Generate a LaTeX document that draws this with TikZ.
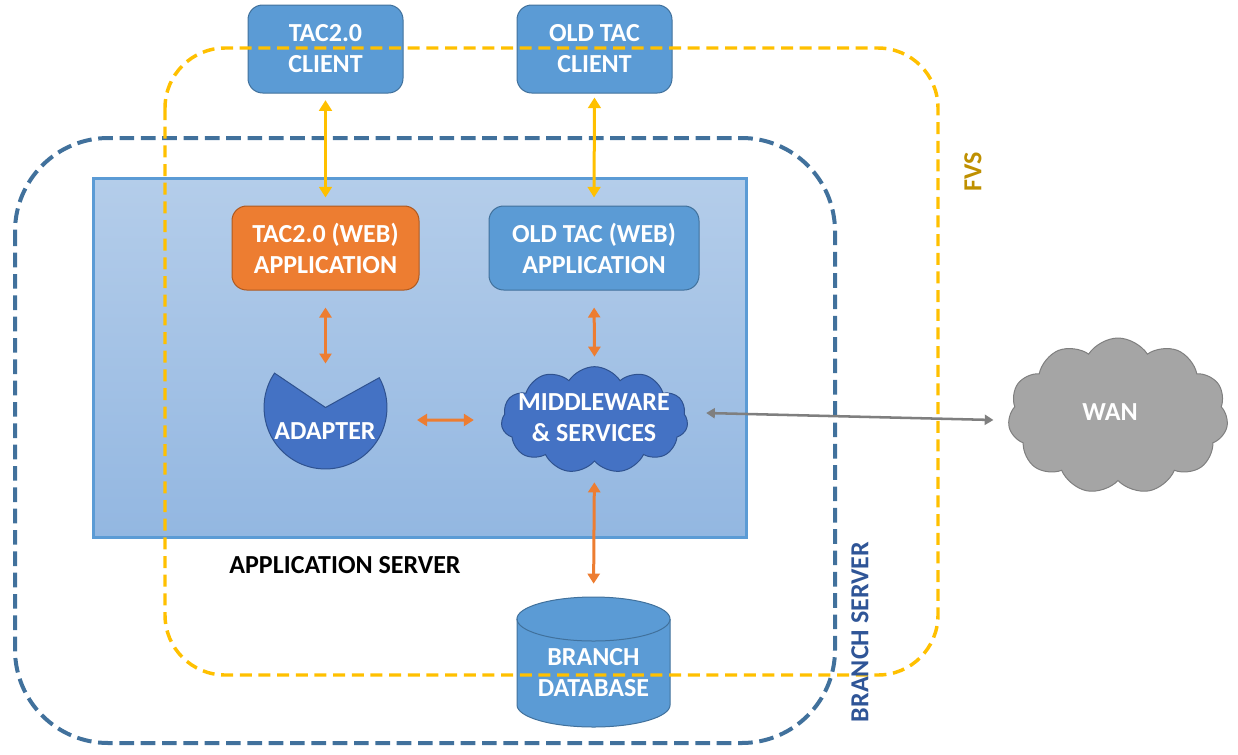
\documentclass[tikz,border=0pt]{standalone}
\usepackage{fontspec}
\setmainfont{Carlito}
\usetikzlibrary{shapes.symbols,arrows.meta,calc}
\definecolor{boxblue}{HTML}{5B9BD5}
\definecolor{boxedge}{HTML}{41719C}
\definecolor{orng}{HTML}{ED7D31}
\definecolor{orngedge}{HTML}{AE5A21}
\definecolor{darkblue}{HTML}{4472C4}
\definecolor{darkblueedge}{HTML}{2F528F}
\definecolor{gold}{HTML}{FFC000}
\definecolor{fvscol}{HTML}{BF9000}
\definecolor{branchcol}{HTML}{2F5597}
\definecolor{srvtop}{HTML}{B4CDEA}
\definecolor{srvbot}{HTML}{93B7E1}
\definecolor{dashblue}{HTML}{41719C}
\definecolor{wangrey}{HTML}{A5A5A5}
\definecolor{wanedge}{HTML}{7F7F7F}
\begin{document}
\begin{tikzpicture}[x=0.75pt,y=-0.75pt,
  bigfont/.style={font=\fontsize{19.5}{23.3}\selectfont\bfseries},
  lbl/.style={bigfont, text=white, align=center, inner sep=0pt},
  rbox/.style={draw=boxedge, line width=0.75pt, fill=boxblue, rounded corners=11pt, lbl},
  ghost/.style={inner sep=0pt, outer sep=0pt},
  yarrow/.style={draw=gold, line width=2.25pt, {Triangle[width=9.5pt,length=8pt]}-{Triangle[width=9.5pt,length=8pt]}},
  oarrow/.style={draw=orng, line width=2.25pt, {Triangle[width=9pt,length=7.5pt]}-{Triangle[width=9pt,length=7.5pt]}},
  garrow/.style={draw=wanedge, line width=1.9pt, {Triangle[width=7.5pt,length=6.5pt]}-{Triangle[width=7.5pt,length=6.5pt]}},
  cloudbase/.style={cloud, cloud puffs=11, cloud puff arc=115, ghost}
]
\useasboundingbox (0,0) rectangle (1238,754);

% application server
\node[ghost, shade, top color=srvtop, bottom color=srvbot, draw=boxblue, line width=2.25pt,
      minimum width=489.75pt, minimum height=269.25pt] (appsrv) at (419.5,357.5) {};

% clients
\node[rbox, minimum width=116.25pt, minimum height=66pt] (tac2c) at (325.5,49) {TAC2.0\\CLIENT};
\node[rbox, minimum width=116.25pt, minimum height=66pt] (oldc) at (594.5,49) {OLD TAC\\CLIENT};

% web applications
\node[rbox, fill=orng, draw=orngedge, minimum width=140.25pt, minimum height=63pt] (tac2w) at (325.5,248) {TAC2.0 (WEB)\\APPLICATION};
\node[rbox, minimum width=157.5pt, minimum height=63pt] (oldw) at (594,248) {OLD TAC (WEB)\\APPLICATION};

% adapter (pie with a wedge cut out at the top)
\node[circle, ghost, minimum size=92.25pt] (adapter) at (325.5,407.5) {};
\draw[fill=darkblue, draw=darkblueedge, line width=0.75pt]
  (adapter.center) -- ($(adapter.center)+(146:46.1pt)$)
  arc[start angle=146, end angle=389, radius=46.1pt] -- cycle;
\node[lbl] (adaptertxt) at (325,431) {ADAPTER};

% middleware cloud
\node[cloudbase, fill=darkblue, draw=darkblueedge, line width=0.75pt,
      minimum width=140pt, minimum height=80pt] (mw) at (594.5,420) {};
\node[lbl] (mwtxt) at (594,418) {MIDDLEWARE\\\& SERVICES};

% WAN cloud
\node[cloudbase, fill=wangrey, draw=wanedge, line width=0.75pt,
      minimum width=165pt, minimum height=117pt] (wan) at (1118,416) {};
\node[lbl] (wantxt) at (1110,412) {WAN};

% database cylinder
\node[ghost, minimum width=114.75pt, minimum height=97.5pt] (db) at (593.5,662) {};
\draw[fill=boxblue, draw=boxedge, line width=0.75pt]
  (517,619) -- (517,705) arc[start angle=180, end angle=360, x radius=57.4pt, y radius=16.5pt]
  -- (670,619) arc[start angle=0, end angle=180, x radius=57.4pt, y radius=16.5pt] -- cycle;
\draw[draw=boxedge, line width=0.75pt]
  (517,619) arc[start angle=180, end angle=360, x radius=57.4pt, y radius=16.5pt];
\node[lbl] (dbtxt) at (593.5,673) {BRANCH\\DATABASE};

% frames
\draw[dashblue, line width=3pt, dash pattern=on 11pt off 5pt, rounded corners=70pt]
  (15,138) rectangle (835,743);
\draw[gold, line width=2.6pt, dash pattern=on 9pt off 5pt, rounded corners=45pt]
  (165,48) rectangle (938,675);

% labels
\node[bigfont, text=black] (appsrvlbl) at (345,565) {APPLICATION SERVER};
\node[bigfont, text=fvscol, rotate=90] (fvslbl) at (973,172) {FVS};
\node[bigfont, text=branchcol, rotate=90] (brlbl) at (860,632) {BRANCH SERVER};

% connectors
\draw[yarrow, shorten <=5pt, shorten >=6pt] (tac2c.south) -- (tac2w.north);
\draw[yarrow, shorten <=3pt, shorten >=6pt] (oldc.south) -- (oldw.north);
\draw[oarrow, shorten <=12.75pt] (tac2w.south) -- ($(adapter.center)+(0,-44)$);
\draw[oarrow, shorten <=12.75pt] (oldw.south) -- ($(mw.north)+(0,-10)$);
\draw[oarrow] ($(adapter.center)+(91.5,12.5)$) -- ($(mw.west)+(-28,0)$);
\draw[oarrow, shorten <=16pt, shorten >=10pt] (mw.south) -- (db.north);
\draw[garrow] ($(mw.east)+(19,-7)$) -- ($(wan.west)+(-16,4)$);
\end{tikzpicture}
\end{document}
